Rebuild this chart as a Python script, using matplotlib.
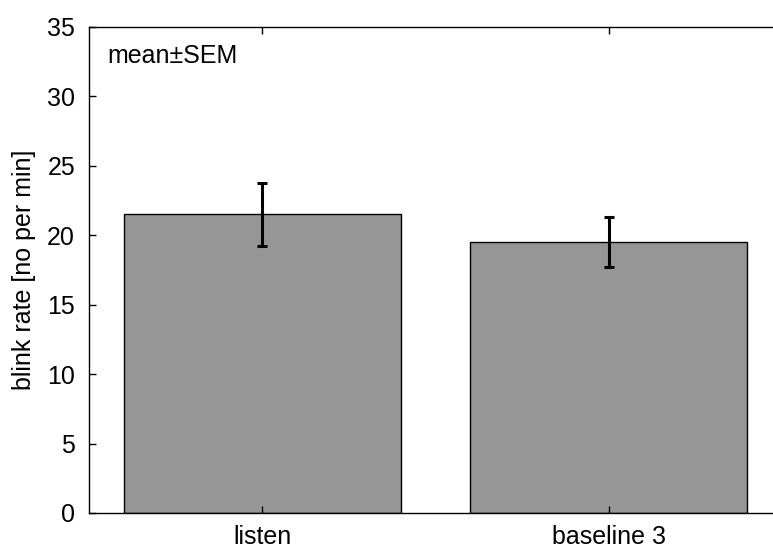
import matplotlib.pyplot as plt
import numpy as np

plt.rcParams["font.family"] = ["Liberation Sans", "DejaVu Sans"]

# Data
conditions = ["listen", "baseline 3"]
blink_rate = [21.5, 19.5]
sem = [2.3, 1.8]

fig = plt.figure(figsize=(7.73, 5.48), dpi=100)
ax = fig.add_axes([89 / 773, 1 - 513 / 548, (782 - 89) / 773, (513 - 27) / 548])

x = np.arange(1, len(conditions) + 1)
ax.bar(x, blink_rate, width=0.8, color="#969696", edgecolor="black", linewidth=1.0)
ax.errorbar(x, blink_rate, yerr=sem, fmt="none", ecolor="black",
            elinewidth=2.2, capsize=3.5, capthick=2.2)

ax.set_xlim(0.5, 2.5)
ax.set_ylim(0, 35)
ax.set_xticks(x)
ax.set_xticklabels(conditions)
ax.set_yticks(np.arange(0, 36, 5))
ax.tick_params(direction="in", top=True, right=False, labelsize=18,
               length=5, width=1)
ax.tick_params(axis="y", pad=10)
ax.tick_params(axis="x", pad=9)
ax.set_ylabel("blink rate [no per min]", fontsize=18, labelpad=8)
for s in ax.spines.values():
    s.set_linewidth(1.0)

ax.text(0.026, 0.965, "mean\u00b1SEM", transform=ax.transAxes,
        fontsize=18, va="top", ha="left")

fig.savefig("out.png", dpi=100)
